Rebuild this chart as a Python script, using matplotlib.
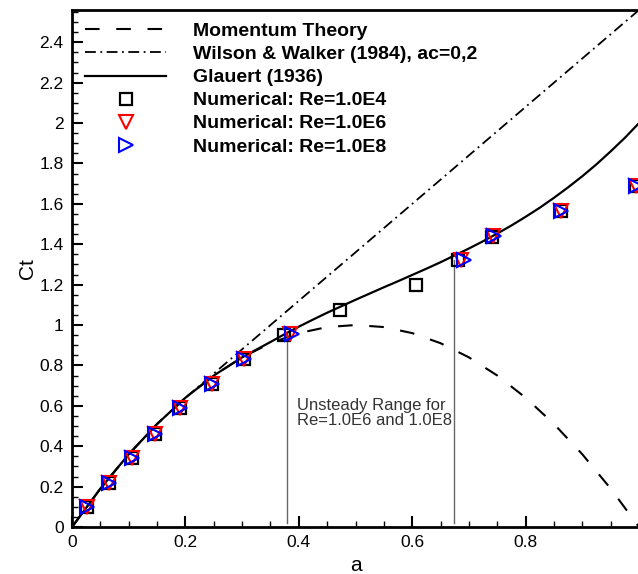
import matplotlib
matplotlib.use('Agg')
import matplotlib.pyplot as plt
from matplotlib.ticker import MultipleLocator, FuncFormatter
from matplotlib.lines import Line2D

plt.rcParams['font.family'] = ['Liberation Sans', 'DejaVu Sans']

# curves (a = axial induction factor)
a_curve = [0.0, 0.05, 0.10, 0.15, 0.20, 0.25, 0.30, 0.35, 0.40, 0.45, 0.50,
           0.55, 0.60, 0.65, 0.70, 0.75, 0.80, 0.85, 0.90, 0.95, 1.0]
ct_momentum = [0.0, 0.19, 0.36, 0.51, 0.64, 0.75, 0.84, 0.91, 0.96, 0.99, 1.0,
               0.99, 0.96, 0.91, 0.84, 0.75, 0.64, 0.51, 0.36, 0.19, 0.0]
a_glauert = [0.0, 0.05, 0.10, 0.15, 0.20, 0.25, 0.30, 0.325, 0.35, 0.375, 0.40,
             0.425, 0.45, 0.475, 0.50, 0.525, 0.55, 0.575, 0.60, 0.625, 0.65,
             0.675, 0.70, 0.725, 0.75, 0.775, 0.80, 0.825, 0.85, 0.875, 0.90,
             0.925, 0.95, 0.975, 1.0]
ct_glauert = [0.0, 0.19, 0.36, 0.51, 0.64, 0.75, 0.84, 0.878, 0.916, 0.955, 0.992,
              1.027, 1.061, 1.093, 1.125, 1.156, 1.187, 1.217, 1.248, 1.279, 1.311,
              1.345, 1.379, 1.415, 1.453, 1.493, 1.536, 1.581, 1.63, 1.682, 1.737,
              1.796, 1.86, 1.927, 2.0]
a_wilson = [0.0, 0.05, 0.10, 0.15, 0.20, 1.0]
ct_wilson = [0.0, 0.19, 0.36, 0.51, 0.64, 2.56]

# numerical results
a_re4 = [0.027, 0.066, 0.106, 0.146, 0.191, 0.246, 0.303, 0.373, 0.473, 0.606, 0.68, 0.741, 0.863, 0.995]
ct_re4 = [0.10, 0.22, 0.342, 0.462, 0.59, 0.71, 0.831, 0.952, 1.076, 1.20, 1.32, 1.438, 1.567, 1.687]
a_re6 = [0.027, 0.066, 0.106, 0.146, 0.191, 0.246, 0.303, 0.385, 0.686, 0.742, 0.863, 0.995]
ct_re6 = [0.10, 0.22, 0.342, 0.462, 0.59, 0.71, 0.831, 0.955, 1.32, 1.44, 1.567, 1.687]
a_re8 = [0.027, 0.066, 0.106, 0.146, 0.191, 0.246, 0.303, 0.388, 0.692, 0.744, 0.863, 0.995]
ct_re8 = [0.10, 0.22, 0.342, 0.462, 0.59, 0.71, 0.831, 0.955, 1.32, 1.44, 1.567, 1.687]

# unsteady range limits
a_unsteady = [0.38, 0.673]
ct_unsteady_top = [0.955, 1.32]


def main():
    fig = plt.figure(figsize=(6.38, 5.74), dpi=100)
    ax = fig.add_axes([0.1129, 0.0819, 0.8887, 0.9007])

    ax.plot(a_curve, ct_momentum, color='black', lw=1.5, dashes=(7, 8))
    ax.plot(a_wilson, ct_wilson, color='black', lw=1.3, dashes=(6, 2.5, 1, 2.5))
    ax.plot(a_glauert, ct_glauert, color='black', lw=1.6)

    for x, top in zip(a_unsteady, ct_unsteady_top):
        ax.plot([x, x], [0.02, top], color='#666666', lw=1.0)

    ax.plot(a_re4, ct_re4, ls='none', marker='s', ms=9, mfc='none', mec='black', mew=1.6)
    ax.plot(a_re6, ct_re6, ls='none', marker='v', ms=10, mfc='none', mec='red', mew=1.5)
    ax.plot(a_re8, ct_re8, ls='none', marker='>', ms=10, mfc='none', mec='blue', mew=1.5)

    ax.text(0.397, 0.565, 'Unsteady Range for\nRe=1.0E6 and 1.0E8', fontsize=12,
            color='#333333', va='center', ha='left', linespacing=0.95)

    handles = [
        Line2D([], [], color='black', lw=1.5, dashes=(7, 8)),
        Line2D([], [], color='black', lw=1.3, dashes=(6, 2.5, 1, 2.5)),
        Line2D([], [], color='black', lw=1.6),
        Line2D([], [], ls='none', marker='s', ms=9, mfc='none', mec='black', mew=1.6),
        Line2D([], [], ls='none', marker='v', ms=10, mfc='none', mec='red', mew=1.5),
        Line2D([], [], ls='none', marker='>', ms=10, mfc='none', mec='blue', mew=1.5),
    ]
    labels = ['Momentum Theory', 'Wilson & Walker (1984), ac=0,2', 'Glauert (1936)',
              'Numerical: Re=1.0E4', 'Numerical: Re=1.0E6', 'Numerical: Re=1.0E8']
    ax.legend(handles, labels, loc='upper left', bbox_to_anchor=(0.0, 1.0),
              frameon=False, numpoints=1, handlelength=4.2, handletextpad=1.35,
              labelspacing=0.28, borderaxespad=0.25,
              prop={'weight': 'bold', 'size': 14})

    ax.set_xlim(0, 1)
    ax.set_ylim(0, 2.56)
    ax.set_xticks([0, 0.2, 0.4, 0.6, 0.8])
    ax.xaxis.set_minor_locator(MultipleLocator(0.05))
    ax.yaxis.set_major_locator(MultipleLocator(0.2))
    ax.yaxis.set_minor_locator(MultipleLocator(0.05))
    fmt = FuncFormatter(lambda v, p: '%g' % round(v, 2))
    ax.xaxis.set_major_formatter(fmt)
    ax.yaxis.set_major_formatter(fmt)
    ax.tick_params(which='both', direction='in', labelsize=12.5, pad=6, top=False, right=False)
    ax.tick_params(which='major', length=8, width=1.5)
    ax.tick_params(which='minor', length=4.5, width=1.0)
    for s in ax.spines.values():
        s.set_linewidth(2.0)

    ax.set_xlabel('a', fontsize=15, labelpad=4)
    ax.set_ylabel('Ct', fontsize=15, labelpad=2)

    fig.savefig('out.png', dpi=100)


if __name__ == "__main__":
    main()
